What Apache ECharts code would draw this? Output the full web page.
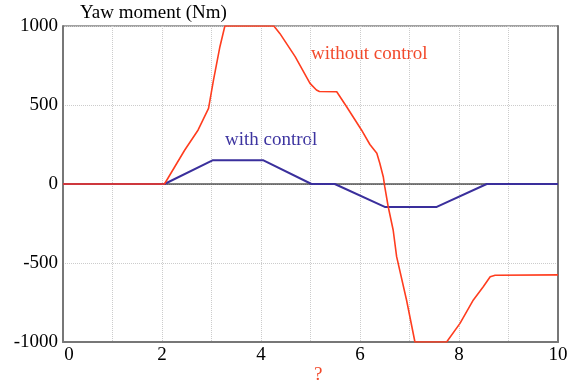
<!DOCTYPE html>
<html><head><meta charset="utf-8">
<script src="https://cdn.jsdelivr.net/npm/echarts@6/dist/echarts.min.js"></script>
<style>html,body{margin:0;padding:0;background:#fff}#c{width:578px;height:388px}</style>
</head><body><div id="c"></div>
<script>
// time (s) and yaw moment (Nm)
const timeWithout = [0, 2.05, 2.46, 2.73, 2.94, 3.04, 3.17, 3.27, 4.26, 4.38, 4.69, 4.99, 5.12, 5.18, 5.53, 5.73, 6.03, 6.20, 6.34, 6.40, 6.47, 6.50, 6.57, 6.67, 6.74, 6.94, 7.11, 7.75, 8.02, 8.29, 8.49, 8.63, 8.73, 10];
const momentWithout = [0, 0, 215, 342, 479, 658, 869, 1000, 1000, 953, 806, 637, 595, 585, 584, 489, 342, 250, 194, 131, 46, -17, -144, -291, -460, -734, -1000, -1000, -882, -734, -650, -587, -578, -575];
const timeWith = [0, 2.05, 3.02, 4.05, 5.02, 5.49, 6.50, 7.55, 8.56, 10];
const momentWith = [0, 0, 150, 150, 0, 0, -145, -145, 0, 0];
const xTicks = [0, 2, 4, 6, 8, 10];
const yTicks = [-1000, -500, 0, 500, 1000];
const labels = { title: 'Yaw moment (Nm)', without: 'without control', withC: 'with control', xName: '?' };

const pair = (xs, ys) => xs.map((x, i) => [x, ys[i]]);
const font = '"Liberation Serif", "Times New Roman", serif';
const chart = echarts.init(document.getElementById('c'), null, { renderer: 'canvas' });
chart.setOption({
  animation: false,
  backgroundColor: '#fff',
  grid: { left: 63, right: 20, top: 26, bottom: 46, show: true, borderColor: '#444', borderWidth: 1 },
  xAxis: {
    type: 'value', min: 0, max: 10, interval: 1,
    axisLine: { show: true, onZero: false, lineStyle: { color: '#777', width: 2 } },
    axisTick: { show: false },
    splitLine: { show: true, lineStyle: { color: '#ccc', type: [1, 1], width: 1 } },
    axisLabel: {
      margin: 4, fontFamily: font, fontSize: 19, color: '#000',
      formatter: v => xTicks.includes(v) ? (v === 0 ? '{f|0}' : String(v)) : '',
      rich: { f: { padding: [0, 0, 0, 12], fontFamily: font, fontSize: 19, color: '#000' } }
    }
  },
  yAxis: [{
    type: 'value', min: -1000, max: 1000, interval: 500,
    axisLine: { show: true, onZero: false, lineStyle: { color: '#777', width: 2 } },
    axisTick: { show: false },
    splitLine: { show: true, lineStyle: { color: '#ccc', type: [1, 1], width: 1 } },
    axisLabel: { margin: 5, fontFamily: font, fontSize: 19, color: '#000',
      formatter: v => yTicks.includes(v) ? String(v) : '' }
  }, {
    type: 'value', min: -1000, max: 1000, position: 'right',
    axisLine: { show: true, onZero: false, lineStyle: { color: '#777', width: 2 } },
    axisTick: { show: false }, axisLabel: { show: false }, splitLine: { show: false }
  }],
  graphic: [
    { type: 'text', left: 80, top: 4, style: { text: labels.title, font: '19px ' + font, fill: '#000' } },
    { type: 'text', left: 311, top: 45, style: { text: labels.without, font: '19px ' + font, fill: '#f24a2c' } },
    { type: 'text', left: 225, top: 131, style: { text: labels.withC, font: '19px ' + font, fill: '#3d34a0' } },
    { type: 'text', left: 314, top: 366, style: { text: labels.xName, font: '19px ' + font, fill: '#f24a2c' } }
  ],
  series: [
    { type: 'line', data: pair([0, 10], [0, 0]), symbol: 'none', z: 1, silent: true,
      lineStyle: { color: '#000', width: 1 } },
    { type: 'line', data: pair(timeWith, momentWith), symbol: 'none', z: 2,
      lineStyle: { color: '#3a2f9c', width: 2 } },
    { type: 'line', data: pair(timeWithout, momentWithout), symbol: 'none', z: 3,
      lineStyle: { color: '#ff3d1f', width: 1.6 } }
  ]
});
</script></body></html>
